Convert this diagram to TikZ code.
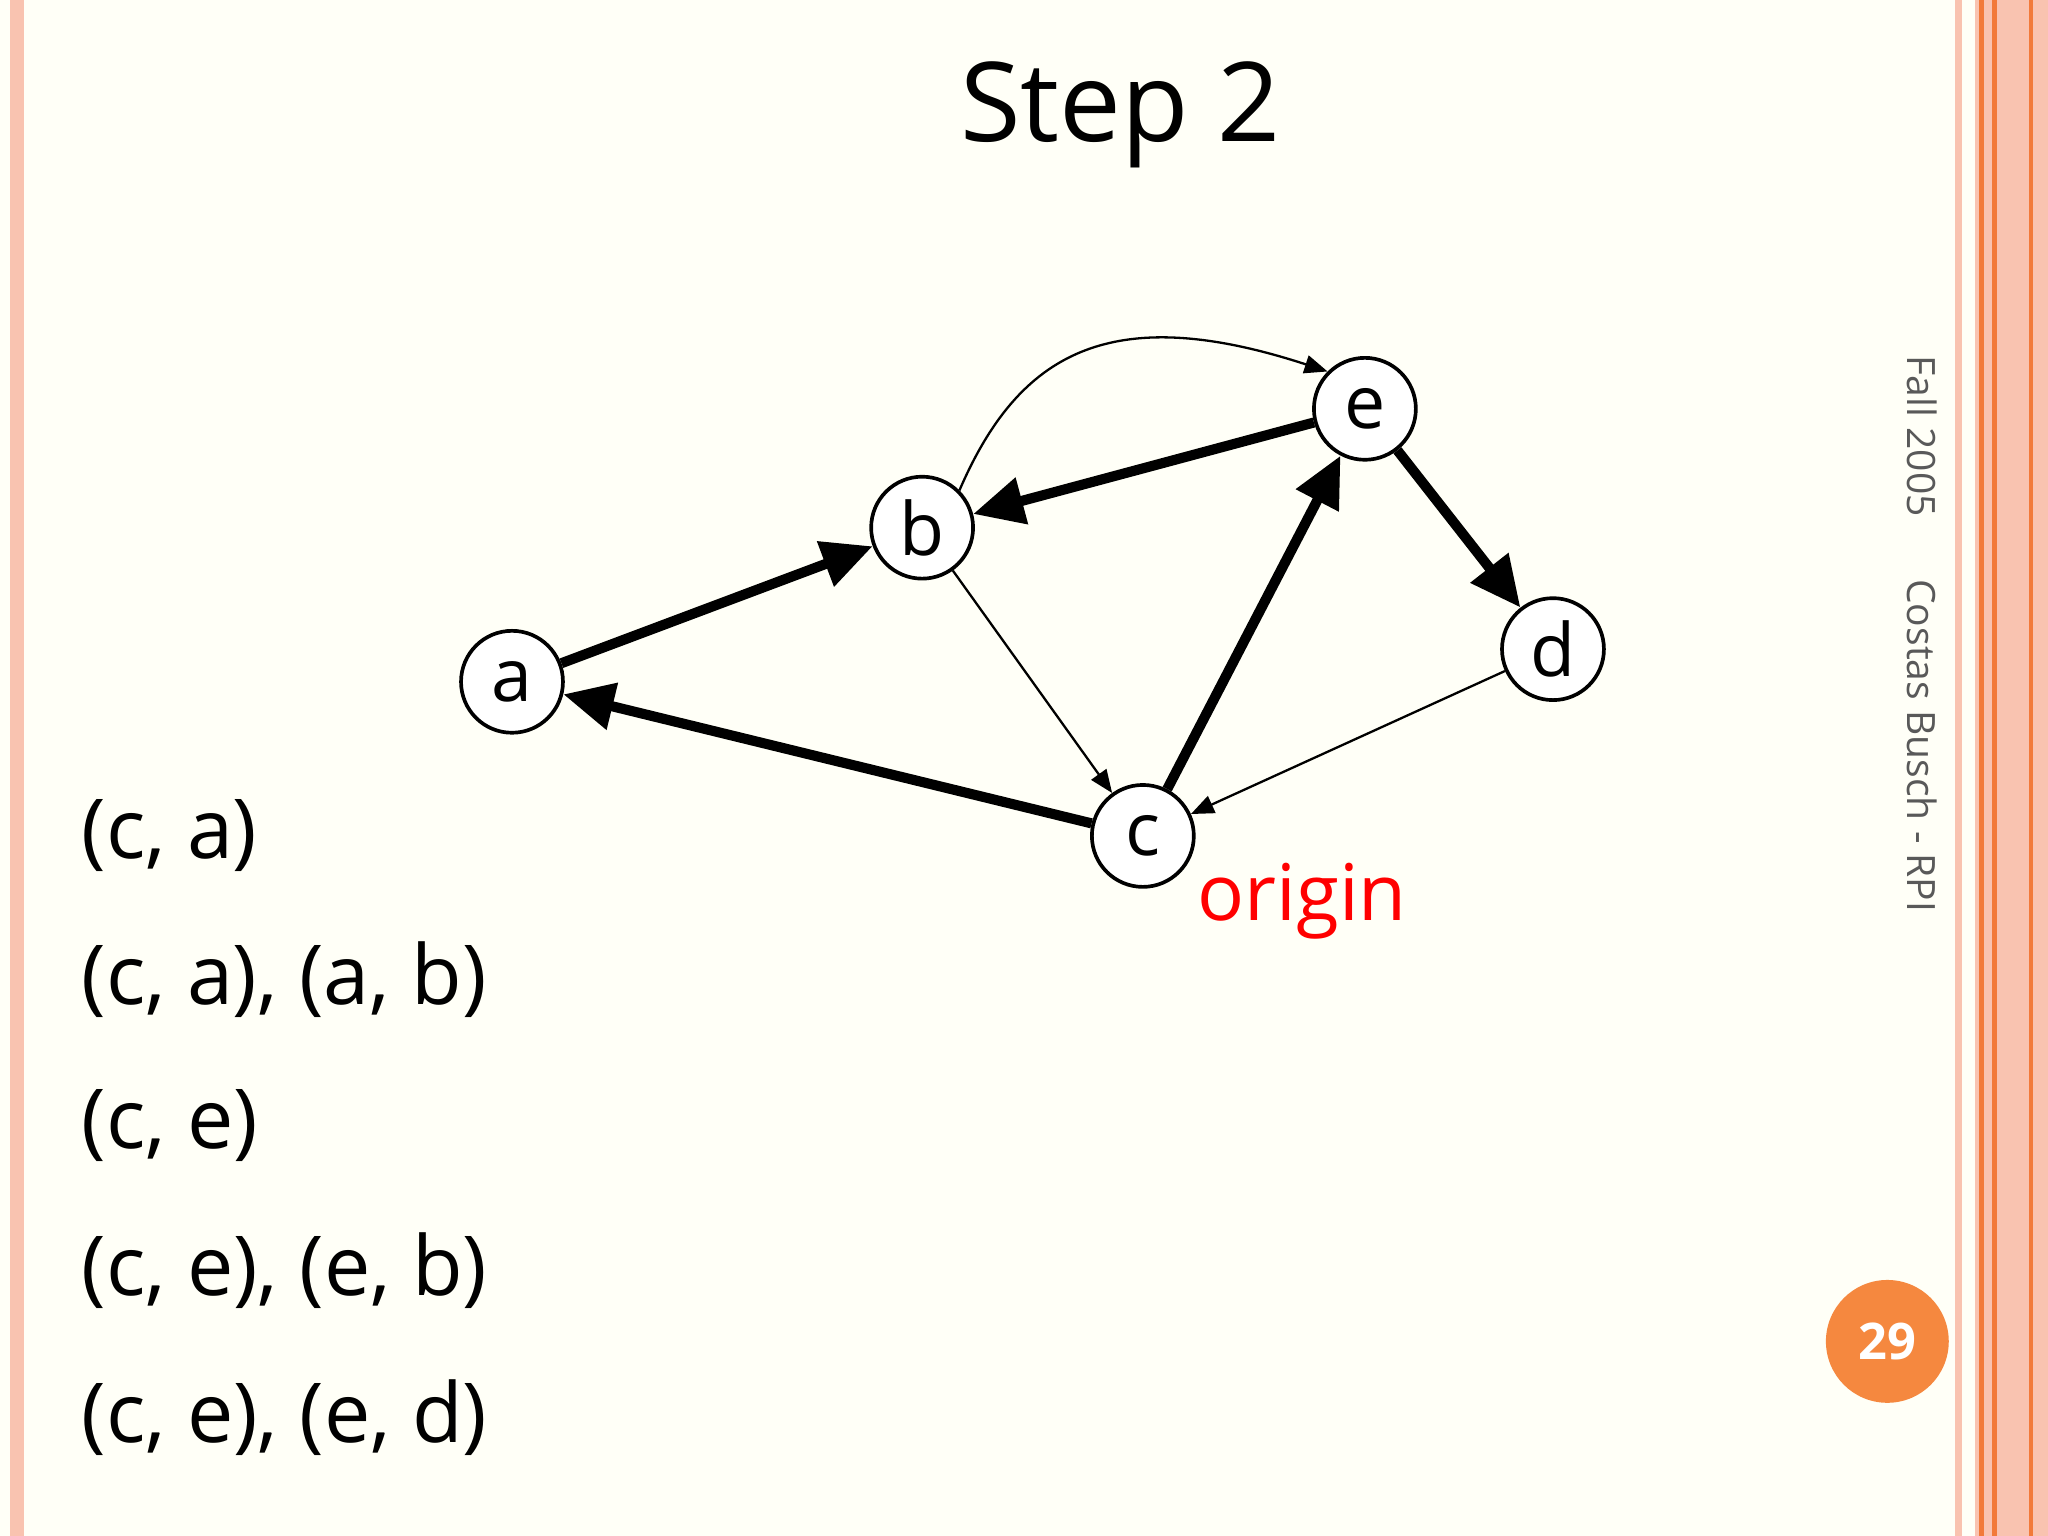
\documentclass[tikz,border=0pt]{standalone}
\usepackage{fontspec}
\setmainfont{Open Sans}
\usetikzlibrary{arrows.meta}
\definecolor{pinkb}{HTML}{F9C3B0}
\definecolor{oranged}{HTML}{F27A3A}
\definecolor{orangec}{HTML}{F5883F}
\begin{document}
\begin{tikzpicture}[x=0.01cm,y=-0.01cm,
  vtx/.style={circle,draw,thick,fill=white,minimum size=0.78cm,inner sep=0pt,font=\fontsize{16}{18}\selectfont},
  heavy/.style={line width=2.2pt,-{Triangle[length=11pt,width=10pt]}},
  light/.style={line width=0.5pt,-{Triangle[length=5pt,width=4pt]}},
  lst/.style={anchor=west,font=\fontsize{18}{22}\selectfont}]
\useasboundingbox (0,0) rectangle (1568,1176);
\fill[white!97!yellow] (0,0) rectangle (1568,1176);
\fill[pinkb] (8,0) rectangle (18,1176);
\fill[pinkb] (1497,0) rectangle (1568,1176);
\fill[white!97!yellow] (1502,0) rectangle (1512,1176);
\draw[oranged,line width=1pt] (1517,0) -- (1517,1176);
\draw[oranged,line width=1pt] (1527,0) -- (1527,1176);
\draw[oranged,line width=1pt] (1555,0) -- (1555,1176);
\node[font=\fontsize{24}{28}\selectfont] (title) at (858,88) {Step 2};
\node[vtx] (a) at (392,522) {a};
\node[vtx] (b) at (706,404) {b};
\node[vtx] (e) at (1045,313) {e};
\node[vtx] (d) at (1189,497) {d};
\node[vtx] (c) at (875,640) {c};
\draw[heavy] (a) -- (b);
\draw[heavy] (c) -- (a);
\draw[heavy] (c) -- (e);
\draw[heavy] (e) -- (b);
\draw[heavy] (e) -- (d);
\draw[light] (b) -- (c);
\draw[light] (d) -- (c);
\draw[light] (b.north east) .. controls (780,270) and (850,230) .. (e.north west);
\node[red,font=\fontsize{17}{20}\selectfont] (org) at (997,690) {origin};
\node[lst] (l1) at (50,640) {(c, a)};
\node[lst] (l2) at (50,750) {(c, a), (a, b)};
\node[lst] (l3) at (50,862) {(c, e)};
\node[lst] (l4) at (50,973) {(c, e), (e, b)};
\node[lst] (l5) at (50,1085) {(c, e), (e, d)};
\node[rotate=-90,anchor=west,gray!70!black,font=\fontsize{8.5}{10}\selectfont] (side) at (1472,260) {Fall 2005\hspace{1.6em}Costas Busch - RPI};
\node[circle,fill=orangec,minimum size=0.94cm,text=white,font=\bfseries\fontsize{11}{13}\selectfont] (pg) at (1445,1027) {29};
\end{tikzpicture}
\end{document}
